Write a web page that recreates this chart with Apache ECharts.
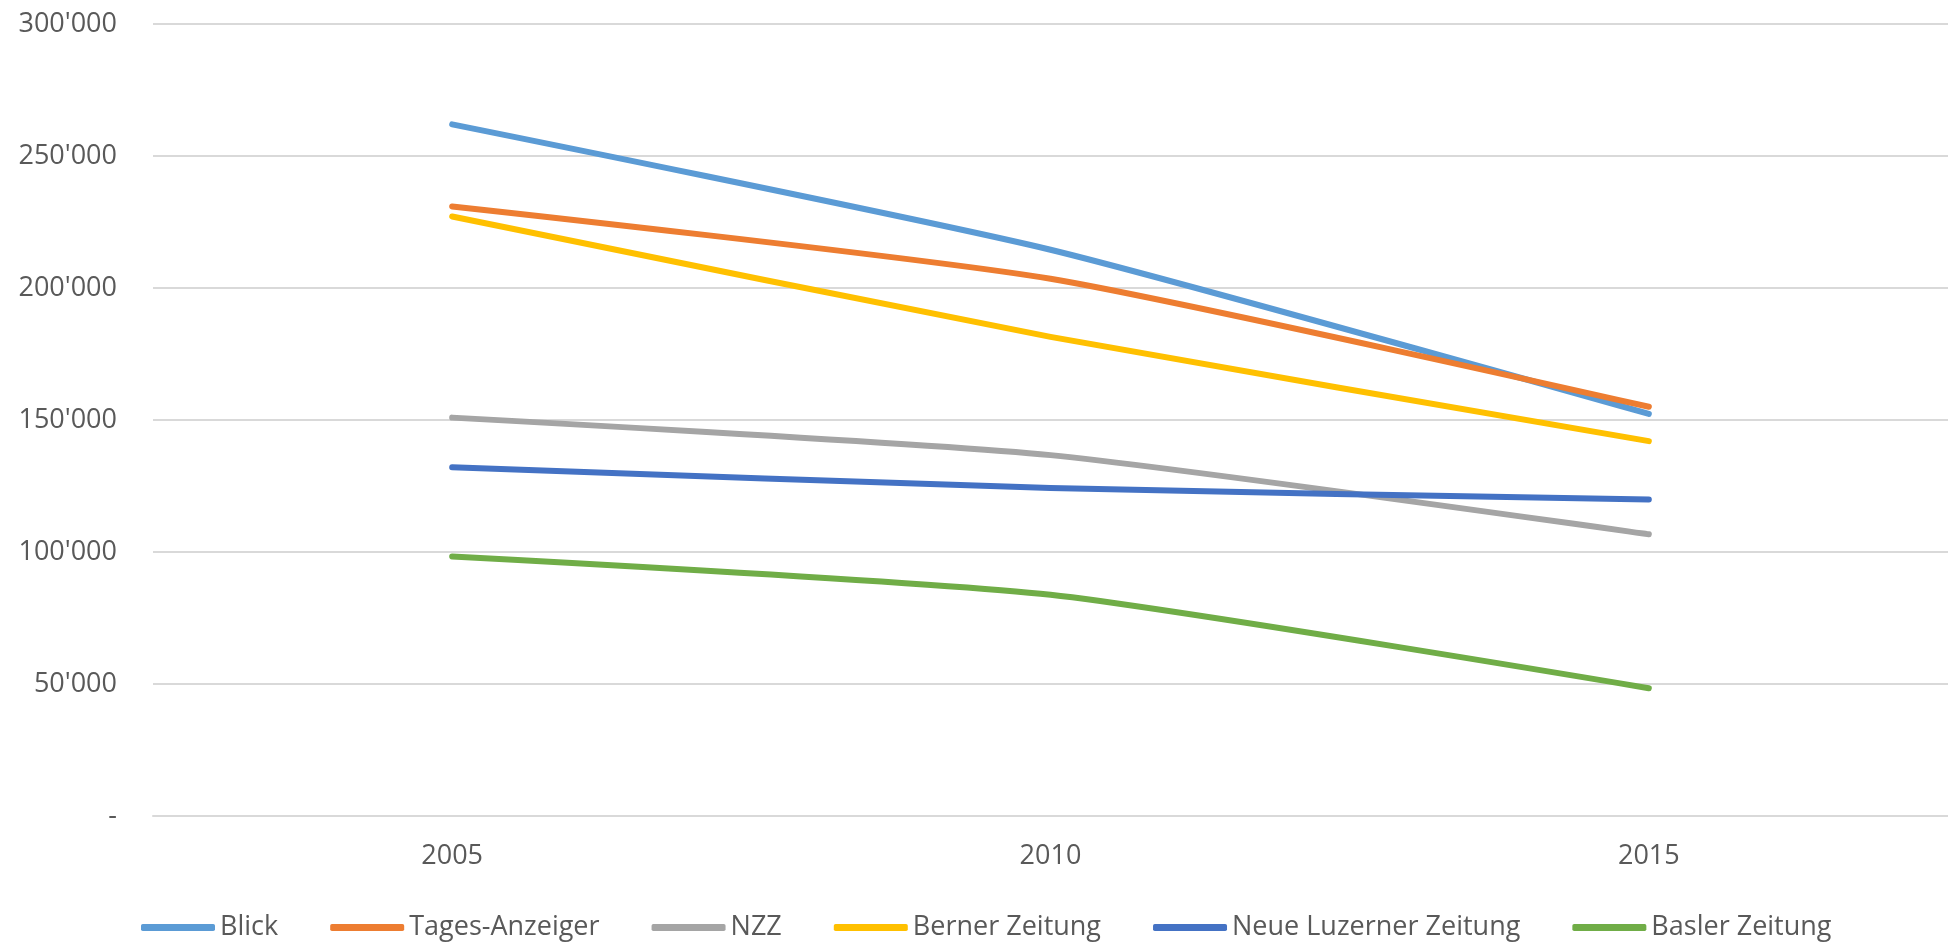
<!DOCTYPE html>
<html>
<head>
    <meta charset="UTF-8">
    <title>Auflagen</title>
    <style>
        html, body { margin: 0; padding: 0; background: #fff; }
        #chartDom { width: 1948px; height: 946px; }
    </style>
</head>
<body>

<script src="https://cdn.jsdelivr.net/npm/echarts@6/dist/echarts.min.js"></script>

<div id="chartDom"></div>

<script type="text/javascript">
    // Daten
    var years = ['2005', '2010', '2015'];
    var blick = [262000, 214500, 152300];
    var tagesAnzeiger = [230900, 203500, 155000];
    var nzz = [150900, 136700, 106700];
    var bernerZeitung = [227100, 181500, 142000];
    var neueLuzerner = [132100, 124200, 119900];
    var baslerZeitung = [98300, 83800, 48400];

    var names = ['Blick', 'Tages-Anzeiger', 'NZZ', 'Berner Zeitung', 'Neue Luzerner Zeitung', 'Basler Zeitung'];
    var values = [blick, tagesAnzeiger, nzz, bernerZeitung, neueLuzerner, baslerZeitung];
    var colors = ['#5B9BD5', '#ED7D31', '#A5A5A5', '#FFC000', '#4472C4', '#70AD47'];

    var myChart = echarts.init(document.getElementById('chartDom'));

    function fmt(v) {
        if (v === 0) return '-';
        return String(v).replace(/\B(?=(\d{3})+(?!\d))/g, "'");
    }

    var series = names.map(function (n, i) {
        return {
            name: n,
            type: 'line',
            data: values[i],
            smooth: 0.2,
            showSymbol: false,
            symbol: 'none',
            lineStyle: { width: 6, color: colors[i], cap: 'round', join: 'round' },
            itemStyle: { color: colors[i] }
        };
    });

    var option = {
        animation: false,
        color: colors,
        grid: {
            left: 153,
            right: 0,
            top: 24,
            bottom: 130
        },
        legend: {
            data: names,
            left: 136,
            bottom: 0,
            icon: 'roundRect',
            itemWidth: 74,
            itemHeight: 7,
            itemGap: 52,
            textStyle: { fontFamily: 'Open Sans', fontSize: 27, color: '#595959' }
        },
        xAxis: {
            type: 'category',
            data: years,
            boundaryGap: true,
            axisLine: { lineStyle: { color: '#d9d9d9', width: 2 } },
            axisTick: { show: false },
            axisLabel: { fontFamily: 'Open Sans', fontSize: 27, color: '#595959', margin: 27 }
        },
        yAxis: {
            type: 'value',
            min: 0,
            max: 300000,
            interval: 50000,
            axisLine: { show: false },
            axisTick: { show: false },
            splitLine: { lineStyle: { color: '#d9d9d9', width: 2 } },
            axisLabel: {
                fontFamily: 'Open Sans', fontSize: 27, color: '#595959', margin: 36,
                formatter: fmt
            }
        },
        series: series
    };

    myChart.setOption(option);
</script>
</body>
</html>
